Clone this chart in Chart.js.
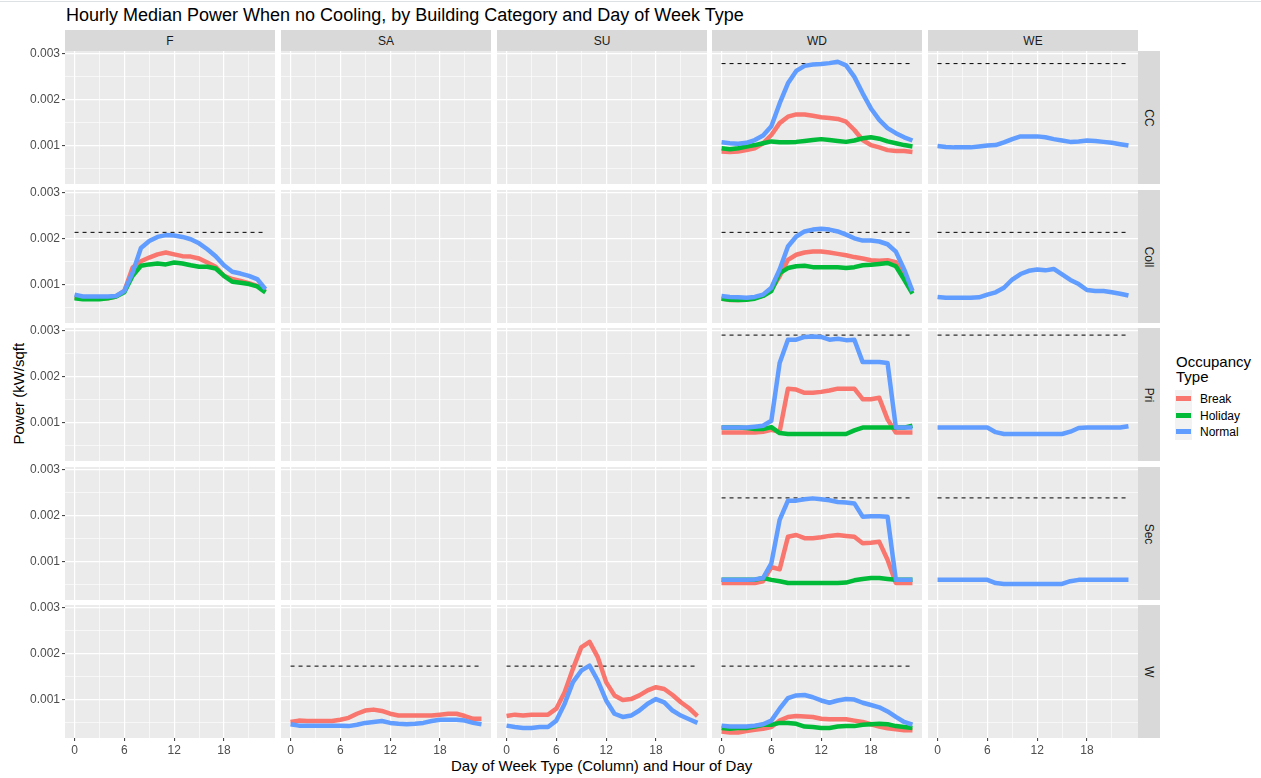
<!DOCTYPE html>
<html>
<head>
<meta charset="utf-8">
<script src="https://cdn.jsdelivr.net/npm/chart.js@4.4.0/dist/chart.umd.min.js"></script>
<style>
  body { margin: 0; background: #fff; font-family: "Liberation Sans", Arial, sans-serif; }
  #wrap { position: relative; width: 1261px; height: 778px; overflow: hidden; }
  .abs { position: absolute; }
  canvas { position: absolute; }
  .strip { position: absolute; background: #d9d9d9; color: #1a1a1a; font-size: 12px;
           display: flex; align-items: center; justify-content: center; }
  .vtext { transform: rotate(90deg); white-space: nowrap; }
  .key { position: absolute; width: 17px; height: 17px; background: #f2f2f2; }
  .key span { position: absolute; left: 1px; right: 1px; top: 6px; height: 5px; }
  .lab { position: absolute; font-size: 12px; color: #000; line-height: 12px; }
</style>
</head>
<body>
<div id="wrap">
  <div class="abs" style="left:0;top:1px;width:1261px;height:1px;background:#dde1e4"></div>
  <div class="abs" style="left:66px;top:6px;font-size:18px;line-height:18px;color:#000;white-space:nowrap">Hourly Median Power When no Cooling, by Building Category and Day of Week Type</div>
  <div class="abs" style="left:451px;top:758px;width:300px;text-align:center;font-size:15px;line-height:15px;white-space:nowrap">Day of Week Type (Column) and Hour of Day</div>
  <div class="abs" style="left:-32px;top:387px;width:100px;text-align:center;font-size:15px;line-height:15px;white-space:nowrap;transform:rotate(-90deg)">Power (kW/sqft</div>
  <div class="abs" style="left:1176px;top:354px;font-size:15px;line-height:15px;color:#000">Occupancy<br>Type</div>
  <div id="legend"></div>
</div>
<script>
// facets
const cols = ['F', 'SA', 'SU', 'WD', 'WE'];
const rows = ['CC', 'Coll', 'Pri', 'Sec', 'W'];
const occTypes = ['Break', 'Holiday', 'Normal'];
const occColors = ['#F8766D', '#00BA38', '#619CFF'];

// x axis: hour of day
const hours = [0,1,2,3,4,5,6,7,8,9,10,11,12,13,14,15,16,17,18,19,20,21,22,23];
const xMajor = [0, 6, 12, 18];
const xMinor = [3, 9, 15, 21];
// y axis (kW/sqft)
const yMajor = [0.001, 0.002, 0.003];
const yMinor = [0.0005, 0.0015, 0.0025];

// median power, W/sqft (= 0.001 kW/sqft)
const ccWdBreak   = [0.87,0.86,0.87,0.90,0.94,1.05,1.23,1.49,1.63,1.68,1.68,1.65,1.62,1.60,1.58,1.52,1.34,1.12,1.01,0.96,0.90,0.88,0.88,0.86];
const ccWdHoliday = [0.94,0.92,0.94,0.98,1.01,1.05,1.09,1.07,1.07,1.08,1.10,1.12,1.14,1.12,1.10,1.08,1.11,1.16,1.18,1.15,1.09,1.05,1.01,0.98];
const ccWdNormal  = [1.07,1.05,1.04,1.06,1.12,1.22,1.42,1.92,2.36,2.63,2.74,2.77,2.78,2.80,2.83,2.75,2.50,2.14,1.81,1.56,1.38,1.27,1.18,1.11];
const ccWeNormal  = [0.99,0.97,0.96,0.96,0.96,0.98,1.00,1.01,1.07,1.14,1.20,1.20,1.20,1.18,1.14,1.11,1.08,1.09,1.11,1.10,1.08,1.06,1.03,1.00];

const collFBreak    = [0.72,0.70,0.70,0.70,0.70,0.74,0.86,1.37,1.51,1.59,1.66,1.70,1.66,1.62,1.61,1.57,1.48,1.39,1.19,1.12,1.08,1.03,0.97,0.86];
const collFHoliday  = [0.70,0.68,0.68,0.68,0.70,0.74,0.83,1.19,1.41,1.44,1.46,1.44,1.48,1.46,1.42,1.39,1.39,1.35,1.19,1.06,1.04,1.01,0.96,0.83];
const collFNormal   = [0.78,0.74,0.74,0.74,0.74,0.75,0.86,1.26,1.80,1.95,2.04,2.08,2.07,2.04,1.99,1.90,1.77,1.62,1.42,1.28,1.24,1.19,1.12,0.90];
const collWdBreak   = [0.70,0.66,0.66,0.67,0.71,0.76,0.89,1.18,1.54,1.65,1.70,1.72,1.72,1.70,1.67,1.64,1.60,1.57,1.53,1.52,1.53,1.49,1.18,0.86];
const collWdHoliday = [0.69,0.67,0.66,0.67,0.69,0.75,0.86,1.25,1.36,1.40,1.41,1.38,1.38,1.38,1.38,1.36,1.38,1.42,1.43,1.45,1.47,1.40,1.11,0.80];
const collWdNormal  = [0.75,0.73,0.72,0.71,0.73,0.78,0.93,1.33,1.83,2.05,2.16,2.20,2.22,2.20,2.16,2.09,2.01,1.96,1.96,1.94,1.88,1.72,1.33,0.86];
const collWeNormal  = [0.73,0.71,0.71,0.71,0.71,0.72,0.78,0.83,0.93,1.11,1.23,1.30,1.33,1.31,1.34,1.22,1.10,1.01,0.88,0.86,0.86,0.83,0.80,0.76];

const priWdBreak   = [0.78,0.78,0.78,0.78,0.78,0.80,0.84,0.80,1.74,1.72,1.65,1.65,1.67,1.70,1.74,1.74,1.74,1.51,1.51,1.54,1.07,0.78,0.78,0.78];
const priWdHoliday = [0.89,0.89,0.89,0.88,0.86,0.86,0.90,0.77,0.75,0.75,0.75,0.75,0.75,0.75,0.75,0.75,0.83,0.89,0.89,0.89,0.89,0.89,0.89,0.93];
const priWdNormal  = [0.89,0.89,0.89,0.89,0.91,0.93,1.04,2.30,2.81,2.81,2.87,2.88,2.87,2.81,2.83,2.80,2.81,2.32,2.32,2.32,2.30,0.89,0.89,0.89];
const priWeNormal  = [0.89,0.89,0.89,0.89,0.89,0.89,0.89,0.79,0.75,0.75,0.75,0.75,0.75,0.75,0.75,0.75,0.80,0.88,0.89,0.89,0.89,0.89,0.89,0.92];

const secWdBreak   = [0.53,0.53,0.53,0.53,0.53,0.57,0.88,0.83,1.54,1.58,1.51,1.51,1.53,1.56,1.58,1.56,1.54,1.40,1.41,1.43,1.04,0.53,0.53,0.53];
const secWdHoliday = [0.60,0.60,0.60,0.60,0.60,0.64,0.60,0.57,0.53,0.53,0.53,0.53,0.53,0.53,0.53,0.54,0.59,0.62,0.64,0.64,0.62,0.60,0.60,0.60];
const secWdNormal  = [0.60,0.60,0.60,0.60,0.61,0.64,0.96,1.91,2.33,2.33,2.36,2.38,2.36,2.34,2.30,2.29,2.27,1.98,1.99,1.99,1.98,0.60,0.60,0.60];
const secWeNormal  = [0.60,0.60,0.60,0.60,0.60,0.60,0.60,0.53,0.51,0.51,0.51,0.51,0.51,0.51,0.51,0.51,0.57,0.60,0.60,0.60,0.60,0.60,0.60,0.60];

const wSaBreak   = [0.51,0.54,0.53,0.53,0.53,0.53,0.56,0.60,0.69,0.76,0.78,0.75,0.69,0.65,0.65,0.65,0.65,0.65,0.67,0.69,0.69,0.64,0.58,0.58];
const wSaNormal  = [0.46,0.43,0.43,0.43,0.43,0.43,0.43,0.42,0.45,0.49,0.51,0.53,0.49,0.47,0.46,0.47,0.49,0.53,0.56,0.56,0.56,0.54,0.49,0.46];
const wSuBreak   = [0.64,0.67,0.65,0.67,0.67,0.67,0.80,1.16,1.67,2.14,2.26,1.92,1.38,1.09,0.99,1.01,1.09,1.20,1.27,1.23,1.10,0.94,0.81,0.64];
const wSuNormal  = [0.43,0.40,0.38,0.38,0.40,0.40,0.54,0.91,1.38,1.63,1.74,1.41,0.98,0.69,0.62,0.65,0.76,0.91,1.01,0.94,0.76,0.65,0.57,0.49];
const wWdBreak   = [0.30,0.28,0.28,0.31,0.34,0.36,0.40,0.54,0.62,0.64,0.63,0.62,0.58,0.57,0.57,0.57,0.54,0.51,0.46,0.41,0.37,0.35,0.33,0.33];
const wWdHoliday = [0.38,0.36,0.38,0.38,0.41,0.45,0.45,0.49,0.49,0.47,0.41,0.40,0.38,0.38,0.41,0.42,0.42,0.45,0.46,0.47,0.46,0.42,0.40,0.38];
const wWdNormal  = [0.43,0.41,0.41,0.41,0.43,0.46,0.54,0.80,1.03,1.09,1.10,1.05,0.98,0.93,0.98,1.01,1.00,0.93,0.88,0.83,0.74,0.62,0.51,0.45];

// dashed reference level per building category, W/sqft
const refLevels = [2.79, 2.14, 2.91, 2.39, 1.73];

// which series sit in which panel  [row][col] -> {Break, Holiday, Normal}
const panels = {
  CC:   { WD: { Break: ccWdBreak, Holiday: ccWdHoliday, Normal: ccWdNormal }, WE: { Normal: ccWeNormal } },
  Coll: { F: { Break: collFBreak, Holiday: collFHoliday, Normal: collFNormal },
          WD: { Break: collWdBreak, Holiday: collWdHoliday, Normal: collWdNormal }, WE: { Normal: collWeNormal } },
  Pri:  { WD: { Break: priWdBreak, Holiday: priWdHoliday, Normal: priWdNormal }, WE: { Normal: priWeNormal } },
  Sec:  { WD: { Break: secWdBreak, Holiday: secWdHoliday, Normal: secWdNormal }, WE: { Normal: secWeNormal } },
  W:    { SA: { Break: wSaBreak, Normal: wSaNormal }, SU: { Break: wSuBreak, Normal: wSuNormal },
          WD: { Break: wWdBreak, Holiday: wWdHoliday, Normal: wWdNormal } }
};

// layout of the panel grid (px)
const colLeft = [65, 281, 497, 712, 928];
const rowTop = [51, 190, 328, 467, 605];
const PANEL_W = 210, PANEL_H = 133;

const wrap = document.getElementById('wrap');
const font12 = { family: 'Liberation Sans', size: 12 };
const isIn = (arr, v) => arr.some(a => Math.abs(a - v) < 1e-9);

const panelBg = {
  id: 'panelBg',
  beforeDraw(chart) {
    const { ctx, chartArea: a } = chart;
    ctx.save();
    ctx.fillStyle = '#ebebeb';
    ctx.fillRect(a.left, a.top, a.width, a.height);
    ctx.restore();
  }
};

function zeroPad(s) {
  s.paddingTop = 0; s.paddingBottom = 0; s.paddingLeft = 0; s.paddingRight = 0;
}

function makePanel(r, c) {
  const isLeft = c === 0, isBottom = r === rows.length - 1;
  const padTop = isLeft ? 8 : 0;
  const yAxisW = isLeft ? 50 : 0;
  const xAxisH = isBottom ? 22 : 0;

  const cv = document.createElement('canvas');
  cv.width = PANEL_W + yAxisW;
  cv.height = PANEL_H + xAxisH + padTop;
  cv.style.left = (colLeft[c] - yAxisW) + 'px';
  cv.style.top = (rowTop[r] - padTop) + 'px';
  wrap.appendChild(cv);

  const datasets = [];
  const series = (panels[rows[r]] || {})[cols[c]];
  if (series) {
    datasets.push({
      data: [{ x: hours[0], y: refLevels[r] / 1000 }, { x: hours[hours.length - 1], y: refLevels[r] / 1000 }],
      borderColor: '#000', borderWidth: 1, borderDash: [4, 4], order: 9
    });
    occTypes.forEach((t, i) => {
      if (!series[t]) return;
      datasets.push({
        data: hours.map((h, k) => ({ x: h, y: series[t][k] / 1000 })),
        borderColor: occColors[i], borderWidth: 4.5, order: 2 - i
      });
    });
  }

  new Chart(cv.getContext('2d'), {
    type: 'line',
    data: { datasets },
    options: {
      responsive: false,
      animation: false,
      layout: { padding: { top: padTop, left: 0, right: 0, bottom: 0 } },
      plugins: { legend: { display: false }, tooltip: { enabled: false } },
      elements: { point: { radius: 0 }, line: { tension: 0, borderJoinStyle: 'round', borderCapStyle: 'butt' } },
      scales: {
        x: {
          type: 'linear', min: -1.15, max: 24.15,
          afterBuildTicks: s => { s.ticks = xMajor.concat(xMinor).sort((a, b) => a - b).map(v => ({ value: v })); },
          afterFit: s => { s.height = xAxisH; zeroPad(s); },
          ticks: { display: isBottom, autoSkip: false, maxRotation: 0, padding: 2, color: '#4d4d4d', font: font12,
                   callback: v => isIn(xMajor, v) ? String(v) : '' },
          grid: { color: '#ffffff', lineWidth: ctx => isIn(xMajor, ctx.tick.value) ? 1.2 : 0.6,
                  drawTicks: isBottom, tickLength: 3, tickWidth: 1,
                  tickColor: ctx => isIn(xMajor, ctx.tick.value) ? '#333333' : 'rgba(0,0,0,0)' },
          border: { display: false }
        },
        y: {
          type: 'linear', min: 0.00016, max: 0.003065,
          afterBuildTicks: s => { s.ticks = yMinor.concat(yMajor).sort((a, b) => a - b).map(v => ({ value: v })); },
          afterFit: s => { s.width = yAxisW; zeroPad(s); },
          ticks: { display: isLeft, autoSkip: false, padding: 2, color: '#4d4d4d', font: font12,
                   callback: v => isIn(yMajor, v) ? v.toFixed(3) : '' },
          grid: { color: '#ffffff', lineWidth: ctx => isIn(yMajor, ctx.tick.value) ? 1.2 : 0.6,
                  drawTicks: isLeft, tickLength: 3, tickWidth: 1,
                  tickColor: ctx => isIn(yMajor, ctx.tick.value) ? '#333333' : 'rgba(0,0,0,0)' },
          border: { display: false }
        }
      }
    },
    plugins: [panelBg]
  });
}

// strips
cols.forEach((name, c) => {
  const d = document.createElement('div');
  d.className = 'strip';
  d.style.cssText = `left:${colLeft[c]}px;top:30px;width:${PANEL_W}px;height:21px;`;
  d.textContent = name;
  wrap.appendChild(d);
});
rows.forEach((name, r) => {
  const d = document.createElement('div');
  d.className = 'strip';
  d.style.cssText = `left:${colLeft[4] + PANEL_W}px;top:${rowTop[r]}px;width:22px;height:${PANEL_H}px;`;
  d.innerHTML = `<div class="vtext">${name}</div>`;
  wrap.appendChild(d);
});

for (let r = 0; r < rows.length; r++) {
  for (let c = 0; c < cols.length; c++) makePanel(r, c);
}

// legend
const legend = document.getElementById('legend');
occTypes.forEach((t, i) => {
  const y = 390 + i * 16.5;
  legend.insertAdjacentHTML('beforeend',
    `<div class="key" style="left:1175px;top:${y}px"><span style="background:${occColors[i]}"></span></div>` +
    `<div class="lab" style="left:1200px;top:${y + 3}px">${t}</div>`);
});
</script>
</body>
</html>
